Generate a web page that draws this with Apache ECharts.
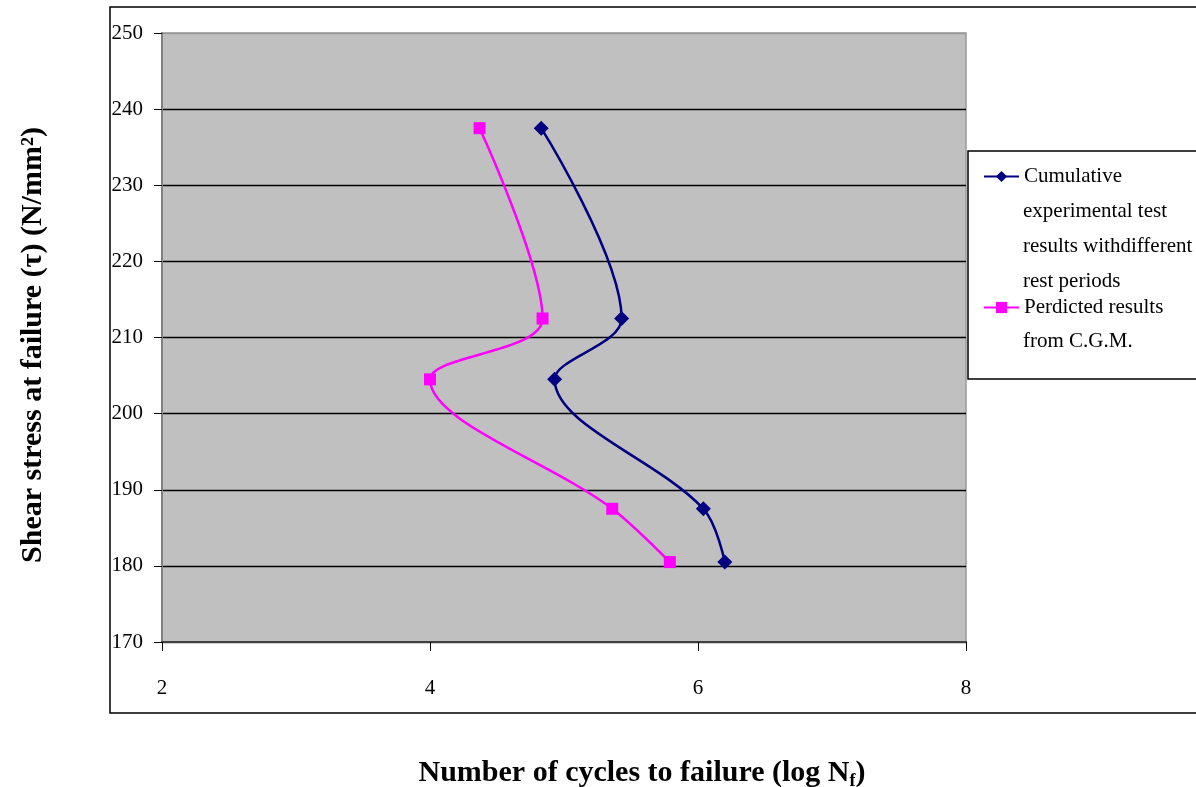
<!DOCTYPE html>
<html>
<head>
<meta charset="utf-8">
<script src="https://cdn.jsdelivr.net/npm/echarts@6/dist/echarts.min.js"></script>
<style>
html,body{margin:0;padding:0;background:#fff;}
#chart{width:1196px;height:787px;}
</style>
</head>
<body>
<div id="chart"></div>
<script>
// Data
const stress = [237.5, 212.5, 204.5, 187.5, 180.5];            // Shear stress (N/mm2)
const experimental = [4.83, 5.43, 4.93, 6.04, 6.20];           // log Nf, cumulative experimental
const predicted = [4.37, 4.84, 4.00, 5.36, 5.79];              // log Nf, predicted C.G.M.
const xTicks = [2, 4, 6, 8];
const yTicks = [170, 180, 190, 200, 210, 220, 230, 240, 250];
const seriesNames = ['Cumulative experimental test results withdifferent rest periods', 'Perdicted results from C.G.M.'];

const FONT = '"Liberation Serif", "DejaVu Serif", serif';

const chart = echarts.init(document.getElementById('chart'));
const splitColors = yTicks.map((v, i) => i === 0 ? '#404040' : (i === yTicks.length - 1 ? '#999999' : '#000000'));

chart.setOption({
  animation: false,
  backgroundColor: '#ffffff',
  textStyle: { fontFamily: FONT },
  grid: {
    left: 162, right: 230, top: 33, bottom: 145,
    outerBoundsMode: 'none', containLabel: false,
    show: true, backgroundColor: '#C0C0C0', borderColor: '#999999', borderWidth: 1.5
  },
  xAxis: {
    type: 'value', min: xTicks[0], max: xTicks[xTicks.length - 1], interval: 2,
    axisLine: { show: true, onZero: false, lineStyle: { color: '#404040', width: 2 } },
    axisTick: { show: true, inside: false, length: 9, lineStyle: { color: '#000', width: 1 } },
    axisLabel: { fontFamily: FONT, fontSize: 21, color: '#000', margin: 36 },
    splitLine: { show: false },
    name: '{a|Number of cycles to failure (log N}{sub|f}{a|)}',
    nameLocation: 'middle',
    nameGap: 114,
    nameTextStyle: {
      padding: [0, 0, 0, 156],
      rich: {
        a: { fontFamily: FONT, fontSize: 30, fontWeight: 'bold', color: '#000', lineHeight: 34 },
        sub: { fontFamily: FONT, fontSize: 18, fontWeight: 'bold', color: '#000', lineHeight: 18, verticalAlign: 'bottom' }
      }
    }
  },
  yAxis: {
    type: 'value', min: yTicks[0], max: yTicks[yTicks.length - 1], interval: 10,
    axisLine: { show: true, lineStyle: { color: '#808080', width: 2 } },
    axisTick: { show: true, inside: false, length: 8, lineStyle: { color: '#000', width: 1 } },
    axisLabel: { fontFamily: FONT, fontSize: 21, color: '#000', margin: 19 },
    splitLine: { show: true, lineStyle: { color: splitColors, width: 1.3 } },
    name: 'Shear stress at failure (τ) (N/mm²)',
    nameLocation: 'middle',
    nameGap: 114,
    nameTextStyle: { fontFamily: FONT, fontSize: 30, fontWeight: 'bold', color: '#000', padding: [0, 15, 0, 0] }
  },
  legend: {
    orient: 'vertical',
    left: 983, top: 166,
    padding: 0,
    itemWidth: 35, itemHeight: 14,
    itemGap: 110,
    data: seriesNames,
    formatter: function (name) { return name === seriesNames[0] ? 'Cumulative' : 'Perdicted results'; },
    textStyle: { fontFamily: FONT, fontSize: 21, color: '#000' }
  },
  graphic: [
    { type: 'rect', z: -10, silent: true, shape: { x: 110, y: 7, width: 1100, height: 706 },
      style: { fill: 'none', stroke: '#000', lineWidth: 1.5 } },
    { type: 'rect', z: 1, silent: true, shape: { x: 968, y: 151, width: 240, height: 228 },
      style: { fill: '#fff', stroke: '#000', lineWidth: 1.5 } },
    { type: 'text', z: 5, silent: true, x: 1023, y: 211, style: { text: 'experimental test', font: '21px ' + FONT, fill: '#000', verticalAlign: 'middle' } },
    { type: 'text', z: 5, silent: true, x: 1023, y: 246, style: { text: 'results withdifferent', font: '21px ' + FONT, fill: '#000', verticalAlign: 'middle' } },
    { type: 'text', z: 5, silent: true, x: 1023, y: 281, style: { text: 'rest periods', font: '21px ' + FONT, fill: '#000', verticalAlign: 'middle' } },
    { type: 'text', z: 5, silent: true, x: 1023, y: 341, style: { text: 'from C.G.M.', font: '21px ' + FONT, fill: '#000', verticalAlign: 'middle' } }
  ],
  series: [
    {
      name: seriesNames[0], type: 'line', smooth: 0.35,
      data: stress.map((s, i) => [experimental[i], s]),
      symbol: 'diamond', symbolSize: 15,
      lineStyle: { color: '#000080', width: 2.5 },
      itemStyle: { color: '#000080' },
      z: 3
    },
    {
      name: seriesNames[1], type: 'line', smooth: 0.35,
      data: stress.map((s, i) => [predicted[i], s]),
      symbol: 'rect', symbolSize: 12,
      lineStyle: { color: '#FF00FF', width: 2.5 },
      itemStyle: { color: '#FF00FF' },
      z: 3
    }
  ]
});
</script>
</body>
</html>
